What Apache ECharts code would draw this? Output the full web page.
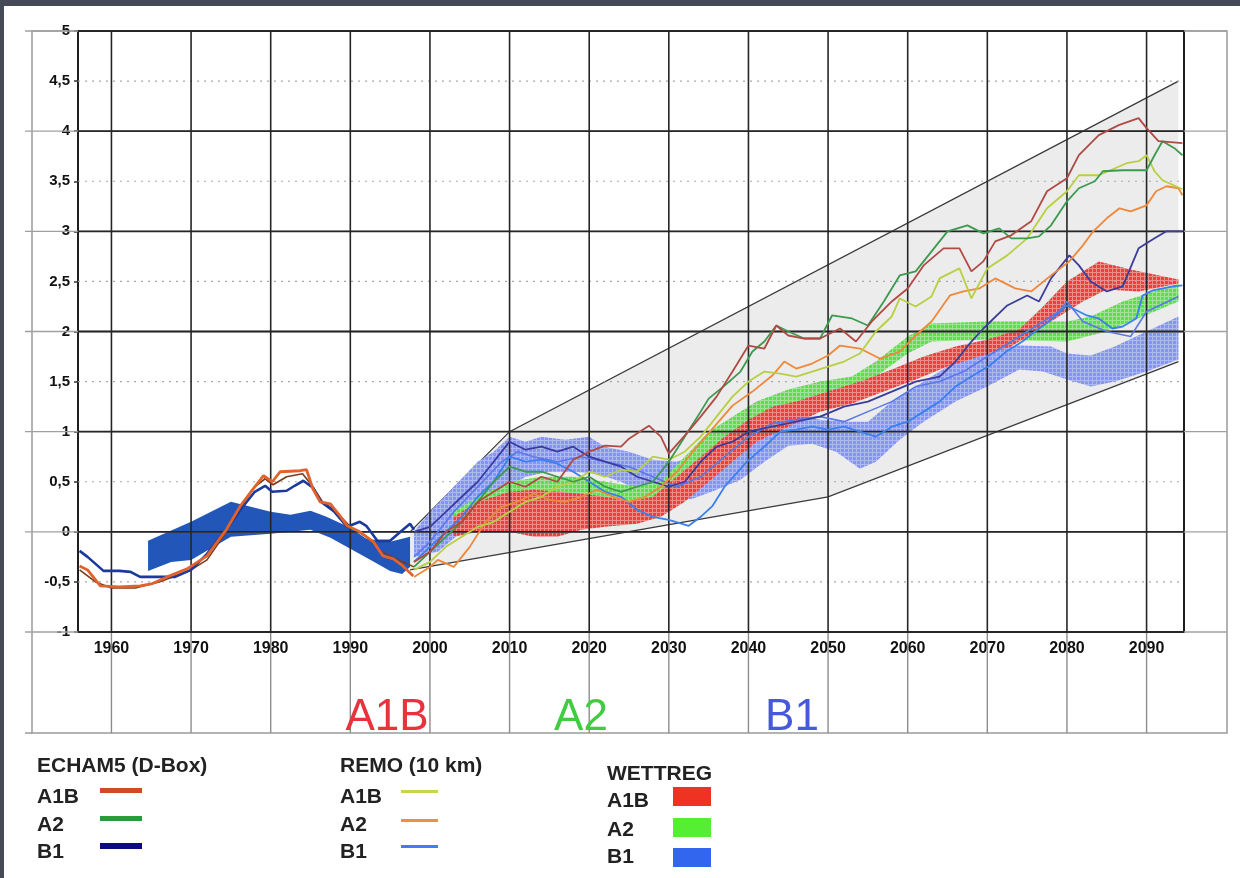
<!DOCTYPE html>
<html><head><meta charset="utf-8">
<script src="https://cdn.jsdelivr.net/npm/echarts@6/dist/echarts.min.js"></script>
<style>html,body{margin:0;padding:0;background:#fff}#c{width:1240px;height:878px}</style>
</head><body><div id="c"></div>
<script>
// ---------- axis ticks ----------
const decades = [1960,1970,1980,1990,2000,2010,2020,2030,2040,2050,2060,2070,2080,2090];
const yTicks = [-1,-0.5,0,0.5,1,1.5,2,2.5,3,3.5,4,4.5,5];

// ---------- grey envelope ----------
const envUpper = [[1997.5,0.0],[2010,1.0],[2094,4.5]];
const envLower = [[1997.5,-0.38],[2050,0.35],[2094,1.7]];

// ---------- historical band ----------
const histBandUpper = [[1964.6,-0.09],[1970,0.1],[1975,0.3],[1977,0.26],[1980,0.2],[1982.5,0.17],[1985,0.21],[1987,0.15],[1990,0.04],[1992,-0.07],[1995,-0.1],[1997.5,-0.05]];
const histBandLower = [[1964.6,-0.39],[1967.5,-0.3],[1970,-0.28],[1975,-0.05],[1980,-0.02],[1985,0.02],[1987.5,-0.06],[1990,-0.17],[1993,-0.3],[1995,-0.39],[1996.5,-0.42],[1997.5,-0.35]];

// ---------- WETTREG bands ----------
const wrB1Upper = [[1998,0.0],[2000,0.2],[2003,0.45],[2006,0.7],[2008,0.8],[2010,0.95],[2012,0.9],[2014,0.95],[2017,0.92],[2020,0.95],[2022,0.85],[2025,0.8],[2028,0.72],[2031,0.7],[2034,0.78],[2037,0.95],[2040,1.1],[2043,1.15],[2046,1.18],[2049,1.12],[2052,1.1],[2055,1.1],[2058,1.3],[2061,1.45],[2064,1.6],[2067,1.75],[2070,1.82],[2074,1.86],[2078,1.85],[2080,1.78],[2083,1.76],[2086,1.85],[2090,2.0],[2094,2.15]];
const wrB1Lower = [[1998,-0.25],[2001,-0.2],[2004,0.0],[2007,0.2],[2010,0.45],[2012,0.55],[2015,0.6],[2018,0.6],[2021,0.58],[2024,0.5],[2027,0.38],[2030,0.3],[2033,0.33],[2036,0.42],[2039,0.52],[2042,0.7],[2045,0.86],[2048,0.88],[2051,0.8],[2054,0.63],[2056,0.7],[2059,0.92],[2062,1.1],[2066,1.3],[2070,1.45],[2074,1.62],[2077,1.6],[2080,1.52],[2083,1.45],[2086,1.5],[2090,1.6],[2094,1.72]];
const wrA2Upper = [[2003,0.2],[2006,0.35],[2010,0.5],[2014,0.55],[2018,0.55],[2022,0.5],[2026,0.45],[2029,0.5],[2032,0.75],[2035,1.0],[2038,1.15],[2041,1.3],[2045,1.42],[2049,1.5],[2053,1.55],[2056,1.7],[2060,1.95],[2063,2.08],[2070,2.1],[2080,2.1],[2083,2.15],[2087,2.3],[2094,2.48]];
const wrA2Lower = [[2003,0.05],[2006,0.1],[2010,0.25],[2014,0.3],[2018,0.3],[2022,0.3],[2026,0.25],[2029,0.3],[2032,0.5],[2035,0.75],[2038,0.95],[2041,1.1],[2045,1.25],[2049,1.35],[2053,1.42],[2056,1.55],[2060,1.78],[2063,1.9],[2070,1.92],[2080,1.9],[2084,1.98],[2088,2.1],[2094,2.3]];
const wrA1BUpper = [[2003,0.15],[2006,0.3],[2010,0.4],[2013,0.42],[2016,0.4],[2019,0.38],[2022,0.35],[2025,0.3],[2028,0.35],[2031,0.55],[2034,0.75],[2037,0.95],[2040,1.12],[2043,1.25],[2046,1.3],[2050,1.4],[2054,1.5],[2058,1.62],[2062,1.75],[2066,1.85],[2070,1.92],[2074,2.02],[2077,2.25],[2080,2.5],[2084,2.7],[2088,2.62],[2094,2.52]];
const wrA1BLower = [[2003,-0.05],[2006,0.0],[2010,0.0],[2013,-0.05],[2016,-0.05],[2019,0.02],[2022,0.05],[2026,0.08],[2029,0.15],[2032,0.3],[2035,0.5],[2038,0.7],[2041,0.9],[2045,1.05],[2049,1.2],[2053,1.28],[2057,1.4],[2061,1.52],[2065,1.65],[2069,1.75],[2073,1.85],[2076,2.0],[2079,2.15],[2082,2.3],[2085,2.42],[2089,2.4],[2094,2.48]];

// ---------- historical lines ----------
const histOrange = [[1956,-0.34],[1957,-0.38],[1958.6,-0.54],[1961,-0.55],[1963.6,-0.54],[1965,-0.52],[1967,-0.45],[1969.5,-0.37],[1972,-0.24],[1974.5,0.03],[1976.2,0.26],[1977.8,0.43],[1979.1,0.56],[1980.2,0.5],[1981.2,0.6],[1983.7,0.61],[1984.5,0.62],[1985.3,0.43],[1986.2,0.3],[1987.5,0.28],[1988.7,0.16],[1989.6,0.06],[1991.2,0.0],[1992.9,-0.1],[1994.1,-0.24],[1995.4,-0.27],[1996.6,-0.34],[1997.9,-0.44]];
const histBrown = [[1956,-0.38],[1958,-0.5],[1960,-0.56],[1963,-0.56],[1966,-0.5],[1968,-0.44],[1970,-0.38],[1972,-0.28],[1974,-0.05],[1976,0.22],[1978,0.45],[1979.3,0.53],[1980.3,0.47],[1982,0.55],[1984,0.58],[1985.3,0.45],[1986.5,0.3],[1988,0.22],[1990,0.05],[1992,-0.05],[1994,-0.2],[1996,-0.28],[1998,-0.35]];
const histBlue = [[1956,-0.19],[1957,-0.25],[1959,-0.39],[1961,-0.39],[1962.4,-0.4],[1963.6,-0.45],[1966,-0.45],[1968,-0.45],[1970,-0.38],[1972,-0.22],[1974.5,0.03],[1976.5,0.25],[1978,0.4],[1979.3,0.46],[1980.2,0.4],[1982,0.41],[1983,0.46],[1984.1,0.51],[1985.3,0.44],[1986.3,0.3],[1988,0.2],[1989.6,0.05],[1991.2,0.1],[1992,0.06],[1993.4,-0.09],[1995,-0.09],[1996.3,0.0],[1997.5,0.08],[1998,0.02]];

// ---------- scenario lines ----------
const echamA1B = [[1998,-0.3],[2000,-0.2],[2002,0.0],[2004,0.1],[2006,0.3],[2008,0.4],[2010,0.5],[2012,0.45],[2014,0.55],[2016,0.5],[2018,0.72],[2020,0.8],[2022,0.86],[2024,0.85],[2025,0.93],[2027.5,1.06],[2029,0.95],[2030,0.78],[2032,0.96],[2034,1.15],[2036,1.35],[2038,1.6],[2040,1.86],[2042,1.83],[2043.5,2.06],[2045,1.96],[2047,1.93],[2049,1.93],[2051.5,2.03],[2053.5,1.9],[2055.5,2.1],[2058,2.3],[2060,2.43],[2062,2.66],[2064.5,2.83],[2066.5,2.83],[2068,2.6],[2069.5,2.7],[2071,2.9],[2073,2.96],[2075.5,3.1],[2077.5,3.4],[2080,3.53],[2081.5,3.76],[2084,3.96],[2086.5,4.06],[2089,4.13],[2090,4.03],[2091.5,3.9],[2094.5,3.88]];
const echamA2 = [[1998,-0.35],[2000,-0.2],[2002,-0.05],[2004,0.1],[2006,0.3],[2008,0.5],[2010,0.65],[2012,0.6],[2014,0.6],[2016,0.55],[2018,0.5],[2020,0.55],[2022,0.45],[2024,0.4],[2026,0.45],[2028,0.5],[2030,0.7],[2032,0.95],[2034,1.2],[2035,1.33],[2037,1.46],[2039,1.6],[2040.5,1.8],[2042,1.9],[2043.5,2.06],[2045,2.0],[2047,1.93],[2049,1.93],[2050.5,2.16],[2053,2.13],[2055,2.06],[2057,2.3],[2059,2.56],[2061,2.6],[2063,2.8],[2065,3.0],[2067.5,3.06],[2069.5,2.98],[2071.5,3.03],[2073,2.93],[2075,2.93],[2076.5,2.95],[2078,3.06],[2080,3.3],[2081.5,3.43],[2083.5,3.5],[2084.5,3.6],[2087,3.61],[2090,3.61],[2091,3.76],[2092,3.9],[2093.5,3.83],[2094.5,3.76]];
const echamB1 = [[1998,0.0],[2000,0.05],[2002,0.2],[2004,0.35],[2006,0.5],[2008,0.7],[2010,0.9],[2012,0.82],[2014,0.85],[2016,0.8],[2018,0.85],[2020,0.75],[2022,0.7],[2024,0.65],[2026,0.55],[2028,0.5],[2030,0.45],[2032,0.5],[2034,0.7],[2036,0.85],[2038,0.9],[2040,1.0],[2043,1.05],[2046,1.1],[2049,1.15],[2052,1.25],[2055,1.3],[2058,1.4],[2061,1.5],[2064,1.55],[2066,1.7],[2068,1.9],[2069.5,2.03],[2072.5,2.26],[2075,2.36],[2076.5,2.3],[2078,2.53],[2080.3,2.76],[2081.5,2.66],[2083,2.5],[2085,2.4],[2087,2.45],[2089,2.83],[2091,2.93],[2092.5,3.0],[2094.5,3.0]];
const remoA1B = [[1998,-0.38],[2000,-0.3],[2002,-0.15],[2004,-0.05],[2006,0.05],[2008,0.1],[2010,0.2],[2012,0.3],[2014,0.35],[2016,0.45],[2018,0.5],[2020,0.6],[2022,0.55],[2024,0.62],[2026,0.6],[2028,0.75],[2030,0.72],[2032,0.8],[2034,0.95],[2036,1.15],[2038,1.35],[2040,1.5],[2042,1.6],[2044,1.58],[2046,1.55],[2048,1.6],[2050,1.65],[2052,1.7],[2054,1.78],[2056,2.0],[2058,2.15],[2059,2.33],[2061,2.25],[2063,2.35],[2064,2.53],[2066.5,2.63],[2068,2.33],[2070,2.63],[2072.5,2.76],[2075,2.93],[2077.5,3.23],[2080,3.4],[2081.5,3.56],[2084,3.56],[2087.5,3.68],[2089,3.7],[2090,3.76],[2091,3.6],[2092,3.51],[2094.5,3.42]];
const remoA2 = [[1998,-0.45],[2000,-0.35],[2001,-0.28],[2003,-0.35],[2005,-0.15],[2007,0.1],[2009,0.25],[2011,0.3],[2013,0.38],[2015,0.32],[2017,0.3],[2019,0.35],[2021,0.42],[2023,0.35],[2025,0.3],[2027,0.35],[2029,0.45],[2031,0.6],[2033,0.8],[2035.5,1.03],[2038,1.26],[2040.5,1.4],[2043,1.56],[2044.5,1.7],[2046,1.63],[2048,1.68],[2050,1.76],[2051.5,1.86],[2054,1.83],[2056.5,1.73],[2059,1.8],[2061,1.96],[2063,2.1],[2065.3,2.36],[2067,2.4],[2069,2.43],[2071,2.53],[2073.5,2.43],[2075.5,2.4],[2078,2.56],[2080.3,2.7],[2082,2.86],[2083.3,3.0],[2085,3.13],[2086.6,3.23],[2088,3.2],[2090,3.26],[2091.2,3.4],[2092.5,3.45],[2094,3.43],[2094.5,3.36]];
const remoB1 = [[1998,-0.3],[2000,-0.15],[2002,0.0],[2004,0.15],[2006,0.35],[2008,0.5],[2010,0.75],[2012,0.7],[2014,0.72],[2016,0.68],[2018,0.6],[2020,0.5],[2022,0.4],[2024,0.35],[2026,0.22],[2028,0.15],[2030,0.12],[2032.5,0.06],[2034,0.15],[2035.5,0.26],[2037,0.45],[2039.8,0.7],[2042,0.85],[2044,1.0],[2046,1.02],[2048,1.05],[2050,1.02],[2052,1.05],[2054,1.0],[2056,0.95],[2058,1.05],[2060,1.1],[2062,1.2],[2064,1.3],[2066,1.45],[2068,1.55],[2070.3,1.66],[2072.4,1.8],[2074.4,1.9],[2076,2.0],[2078.2,2.13],[2080,2.26],[2082.5,2.16],[2084,2.13],[2085.7,2.03],[2087,2.05],[2088.7,2.13],[2089.5,2.36],[2090.8,2.41],[2093.3,2.45],[2094.5,2.46]];
const remoB1b = [[1998,-0.25],[2000,-0.1],[2003,0.2],[2006,0.45],[2009,0.7],[2011,0.8],[2013,0.75],[2016,0.7],[2019,0.75],[2022,0.7],[2025,0.65],[2028,0.55],[2031,0.45],[2034,0.55],[2037,0.75],[2040,0.95],[2043,1.08],[2046,1.12],[2049,1.15],[2052,1.1],[2055,1.2],[2058,1.3],[2061,1.45],[2064,1.5],[2067,1.6],[2070,1.75],[2073,1.9],[2076,2.05],[2079,2.2],[2080,2.3],[2082,2.1],[2085,2.0],[2088,1.95],[2090,2.2],[2094,2.35]];

// ---------- helpers ----------
function hatch(base, line) {
  const c = document.createElement('canvas'); c.width = 4; c.height = 4;
  const g = c.getContext('2d'); g.fillStyle = base; g.fillRect(0,0,4,4);
  g.fillStyle = line; g.fillRect(0,0,4,1); g.fillRect(0,0,1,4);
  return {image: c, repeat: 'repeat'};
}
function bandSeries(name, upper, lower, fill, z) {
  return {
    type:'custom', name, z, silent:true, clip:true,
    data:[upper[0]], encode:{x:0,y:1},
    renderItem:(params, api) => {
      const pts = upper.concat(lower.slice().reverse()).map(p => api.coord(p));
      return {type:'polygon', shape:{points:pts}, style:{fill:fill}};
    }
  };
}
function lineSeries(name, data, color, width, z) {
  return {type:'line', name, data, showSymbol:false, symbol:'none', z, silent:true,
    lineStyle:{color, width}, animation:false};
}
const X0 = 1955.8, X1 = 2094.7;
const FONT = '"Liberation Sans", Arial, sans-serif';

const chart = echarts.init(document.getElementById('c'), null, {renderer:'canvas'});

const series = [
  // envelope
  {
    type:'custom', name:'envelope', z:1, silent:true, clip:true,
    data:[envUpper[0]], encode:{x:0,y:1},
    renderItem:(params, api) => {
      const up = envUpper.map(p => api.coord(p));
      const lo = envLower.map(p => api.coord(p));
      return {type:'group', children:[
        {type:'polygon', shape:{points:up.concat(lo.slice().reverse())}, style:{fill:'#ececec'}},
        {type:'polyline', shape:{points:up}, style:{stroke:'#3a3a3a', lineWidth:1.3, fill:null}},
        {type:'polyline', shape:{points:lo}, style:{stroke:'#3a3a3a', lineWidth:1.3, fill:null}}
      ]};
    }
  },
  bandSeries('hist band', histBandUpper, histBandLower, '#2256b8', 2),
  bandSeries('WETTREG B1', wrB1Upper, wrB1Lower, hatch('#8494f2', '#aeb8f6'), 2),
  bandSeries('WETTREG A2', wrA2Upper, wrA2Lower, hatch('#5ede48', '#9ae88e'), 2),
  bandSeries('WETTREG A1B', wrA1BUpper, wrA1BLower, hatch('#f03e3e', '#f58a8a'), 2),
  // horizontal gridlines
  {
    type:'custom', name:'hgrid', z:3, silent:true, clip:false,
    data:yTicks.map(v => [X0, v]), encode:{x:0,y:1},
    renderItem:(params, api) => {
      const v = api.value(1);
      const y = api.coord([X0, v])[1];
      const xl = api.coord([X0, v])[0], xr = api.coord([X1, v])[0];
      if (Math.abs(v - Math.round(v)) < 1e-9) {
        return {type:'group', children:[
          {type:'line', z2:0, shape:{x1:25,y1:y,x2:1227,y2:y}, style:{stroke:'#a0a0a0', lineWidth:1.3}},
          {type:'line', z2:1, shape:{x1:xl,y1:y,x2:xr,y2:y}, style:{stroke:'#262626', lineWidth:1.8}}
        ]};
      }
      return {type:'line', shape:{x1:xl,y1:y,x2:xr,y2:y}, style:{stroke:'#a8a8a8', lineWidth:1.2, lineDash:[2,5]}};
    }
  },
  // vertical gridlines
  {
    type:'custom', name:'vgrid', z:3, silent:true, clip:false,
    data:decades.map(d => [d, -1]), encode:{x:0,y:1},
    renderItem:(params, api) => {
      const d = api.value(0);
      const x = api.coord([d, 0])[0];
      const top = api.coord([d, 5])[1], bot = api.coord([d, -1])[1];
      return {type:'group', children:[
        {type:'line', shape:{x1:x,y1:top,x2:x,y2:bot}, style:{stroke:'#262626', lineWidth:1.6}},
        {type:'line', shape:{x1:x,y1:bot,x2:x,y2:bot+101}, style:{stroke:'#8c8c8c', lineWidth:1.4}}
      ]};
    }
  },
  // historical
  lineSeries('hist brown', histBrown, '#7a3a1c', 1.6, 4),
  lineSeries('hist blue', histBlue, '#1b3a9c', 2.6, 4),
  lineSeries('hist orange', histOrange, '#e0622c', 2.8, 4),
  // future
  lineSeries('REMO B1 b', remoB1b, '#5a78e8', 1.6, 4),
  lineSeries('REMO B1', remoB1, '#3a80ee', 1.8, 4),
  lineSeries('ECHAM5 B1', echamB1, '#3c3c9c', 1.8, 4),
  lineSeries('REMO A2', remoA2, '#f0883a', 1.8, 4),
  lineSeries('REMO A1B', remoA1B, '#b8d040', 1.8, 4),
  lineSeries('ECHAM5 A2', echamA2, '#3a9a4e', 1.8, 4),
  lineSeries('ECHAM5 A1B', echamA1B, '#b04a44', 1.8, 4)
];

const txt = (x, y, text, font, fill, align) => ({type:'text', z:10, style:{x, y, text, font, fill, textAlign:align||'left', textVerticalAlign:'middle'}});
const bar = (x, y, w, h, fill) => ({type:'rect', z:10, shape:{x, y, width:w, height:h}, style:{fill}});
const LF = 'bold 21px ' + FONT;

const graphic = [
  // outer frame
  {type:'rect', z:-10, shape:{x:32, y:31, width:1195, height:702}, style:{fill:null, stroke:'#9a9a9a', lineWidth:1.5}},
  {type:'line', z:-10, shape:{x1:25, y1:733, x2:32, y2:733}, style:{stroke:'#9a9a9a', lineWidth:1.5}},
  // dark border strips
  {type:'rect', z:20, shape:{x:0, y:0, width:1240, height:6}, style:{fill:'#444a58'}},
  {type:'rect', z:20, shape:{x:0, y:0, width:4, height:878}, style:{fill:'#444a58'}},
  // scenario labels
  txt(387, 718, 'A1B', '44px ' + FONT, '#e8323c', 'center'),
  txt(581, 718, 'A2', '44px ' + FONT, '#3fcc3f', 'center'),
  txt(792, 718, 'B1', '44px ' + FONT, '#4658dc', 'center'),
  // ECHAM5 legend
  txt(37, 766, 'ECHAM5 (D-Box)', LF, '#222'),
  txt(37, 797, 'A1B', LF, '#222'),
  txt(37, 825, 'A2', LF, '#222'),
  txt(37, 852, 'B1', LF, '#222'),
  bar(100, 788, 42, 5, '#d04a28'),
  bar(100, 816, 42, 5, '#2a9a3a'),
  bar(100, 843, 42, 6, '#0c0c80'),
  // REMO legend
  txt(340, 766, 'REMO (10 km)', LF, '#222'),
  txt(340, 797, 'A1B', LF, '#222'),
  txt(340, 825, 'A2', LF, '#222'),
  txt(340, 852, 'B1', LF, '#222'),
  bar(401, 790, 37, 3, '#c8d44a'),
  bar(401, 819, 37, 3, '#f0903a'),
  bar(401, 845, 37, 3, '#3a80f0'),
  // WETTREG legend
  txt(607, 774, 'WETTREG', LF, '#222'),
  txt(607, 801, 'A1B', LF, '#222'),
  txt(607, 830, 'A2', LF, '#222'),
  txt(607, 857, 'B1', LF, '#222'),
  bar(673, 787, 38, 19, '#ee3322'),
  bar(673, 818, 38, 19, '#55ee33'),
  bar(673, 848, 38, 19, '#3366ee')
];

chart.setOption({
  animation:false,
  backgroundColor:'#ffffff',
  grid:{left:78, right:56, top:31, bottom:246, show:true, borderColor:'#1e1e1e', borderWidth:2, backgroundColor:'transparent'},
  xAxis:{
    type:'value', min:X0, max:X1,
    axisLine:{show:false}, axisTick:{show:false}, splitLine:{show:false},
    axisLabel:{customValues:decades, fontWeight:'bold', fontSize:16, color:'#111', margin:9, fontFamily:'"Liberation Sans", Arial, sans-serif', formatter: v => String(Math.round(v))}
  },
  yAxis:{
    type:'value', min:-1, max:5, interval:0.5,
    axisLine:{show:false}, splitLine:{show:false},
    axisTick:{show:true, length:4, lineStyle:{color:'#333', width:1.5}},
    axisLabel:{fontWeight:'bold', fontSize:15, color:'#111', margin:8, fontFamily:'"Liberation Sans", Arial, sans-serif',
      formatter: v => (v < 0 ? '-' : '') + String(Math.abs(v)).replace('.', ',')}
  },
  graphic:graphic,
  series:series
});
</script></body></html>
